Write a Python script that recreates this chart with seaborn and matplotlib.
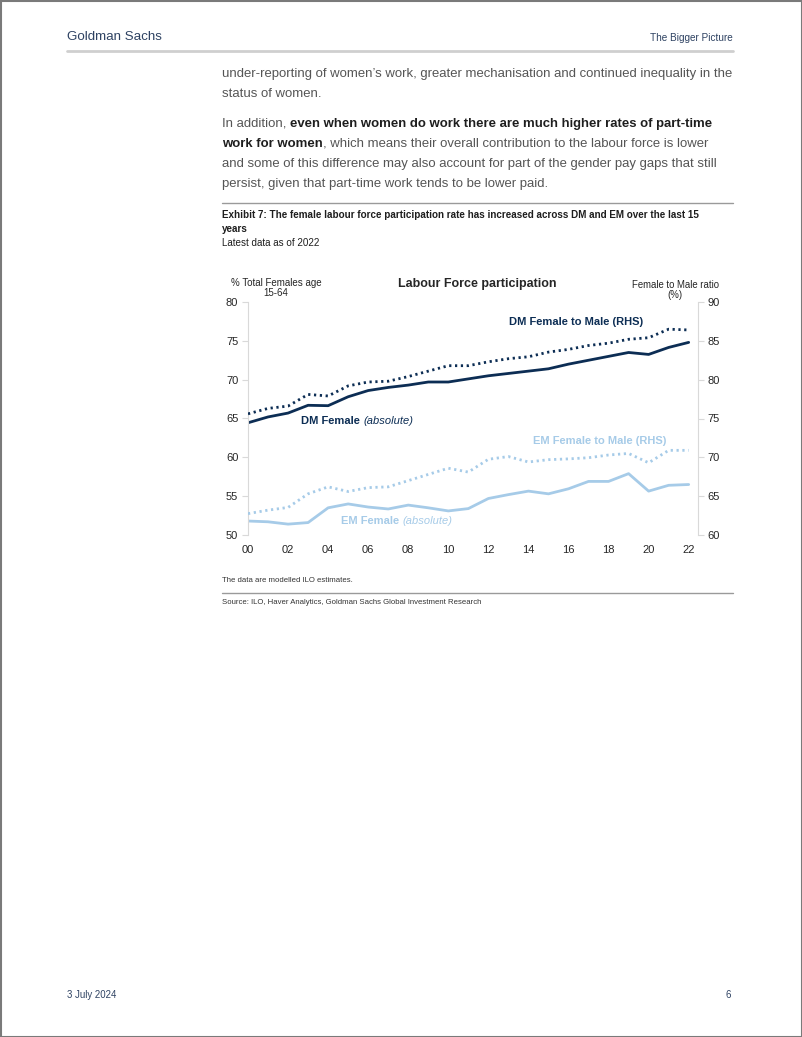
import matplotlib
matplotlib.use('Agg')
import pandas as pd
import seaborn as sns
import matplotlib.pyplot as plt
from matplotlib.patches import Rectangle

# Data
years = list(range(2000, 2023))
dm_female = [64.45, 65.2, 65.7, 66.7, 66.65, 67.8, 68.6, 69.0, 69.3, 69.7, 69.7, 70.1,
             70.5, 70.8, 71.1, 71.4, 72.0, 72.5, 73.0, 73.5, 73.25, 74.15, 74.8]
dm_ratio = [75.6, 76.3, 76.6, 78.1, 77.9, 79.2, 79.7, 79.8, 80.4, 81.1, 81.8, 81.8,
            82.3, 82.7, 82.95, 83.55, 83.9, 84.4, 84.7, 85.2, 85.4, 86.5, 86.4]
em_female = [51.8, 51.7, 51.4, 51.6, 53.5, 54.0, 53.6, 53.35, 53.85, 53.5, 53.1, 53.4,
             54.7, 55.2, 55.65, 55.3, 55.95, 56.9, 56.9, 57.9, 55.65, 56.4, 56.5]
em_ratio = [62.75, 63.2, 63.55, 65.3, 66.2, 65.6, 66.1, 66.2, 67.0, 67.8, 68.6, 68.1,
            69.75, 70.1, 69.4, 69.7, 69.8, 69.95, 70.3, 70.5, 69.3, 70.9, 70.9]
xticks = list(range(2000, 2023, 2))
xtick_labels = [f"{y % 100:02d}" for y in xticks]

df = pd.DataFrame({"year": years, "dm_female": dm_female, "dm_ratio": dm_ratio,
                   "em_female": em_female, "em_ratio": em_ratio})

sns.set_style("white")
plt.rcParams['font.family'] = ['Liberation Sans', 'DejaVu Sans']

NAVY = "#0c2d54"
LIGHT = "#a6cbe8"
GREY_TXT = "#555555"
HEAD = "#2e4262"
DARK = "#1e1e1e"

W, H = 802, 1037
fig = plt.figure(figsize=(W / 100, H / 100), dpi=100)


def fx(x):
    return x / W


def fy(y):
    return 1 - y / H


# page canvas for text and rules (pixel coordinates)
bg = fig.add_axes([0, 0, 1, 1])
bg.set_xlim(0, W)
bg.set_ylim(H, 0)
bg.axis('off')
bg.add_patch(Rectangle((0.5, 0.5), W - 1, H - 1, fill=False, edgecolor="#7a7a7a", lw=1.5))

# header / footer
bg.text(67, 37, "Goldman Sachs", fontsize=9.6, color=HEAD, va='center')
bg.text(733, 38, "The Bigger Picture", fontsize=7.2, color=HEAD, va='center', ha='right')
bg.plot([67, 733], [50.5, 50.5], color="#cfcfcf", lw=2)
bg.text(67, 995, "3 July 2024", fontsize=6.9, color=HEAD, va='center')
bg.text(731, 995, "6", fontsize=6.9, color=HEAD, va='center', ha='right')

# body text
BODY = 9.45


def simple(y, s):
    return bg.text(222, y, s, fontsize=BODY, color=GREY_TXT, va='baseline')


simple(77, "under-reporting of women\u2019s work, greater mechanisation and continued inequality in the")
simple(97, "status of women.")
t = simple(127, "In addition, ")
bg.annotate("even when women do work there are much higher rates of part-time",
            xy=(1, 0), xycoords=t, fontsize=BODY, fontweight='bold', color=DARK,
            va='bottom', ha='left')
t2 = bg.text(222, 147, "work for women", fontsize=BODY, fontweight='bold', color=DARK, va='baseline')
bg.annotate(", which means their overall contribution to the labour force is lower",
            xy=(1, 0), xycoords=t2, fontsize=BODY, color=GREY_TXT, va='bottom', ha='left')
simple(167, "and some of this difference may also account for part of the gender pay gaps that still")
simple(187, "persist, given that part-time work tends to be lower paid.")

bg.plot([222, 733], [202.5, 202.5], color="#9a9a9a", lw=1)
bg.text(222, 215, "Exhibit 7: The female labour force participation rate has increased across DM and EM over the last 15",
        fontweight='bold', fontsize=7.1, color=DARK, va='center')
bg.text(222, 229.5, "years", fontweight='bold', fontsize=7.1, color=DARK, va='center')
bg.text(222, 243, "Latest data as of 2022", fontsize=7.1, color=DARK, va='center')

bg.text(222, 581, "The data are modelled ILO estimates.", fontsize=5.6, color="#333333", va='center')
bg.plot([222, 733], [593, 593], color="#9a9a9a", lw=1)
bg.text(222, 603, "Source: ILO, Haver Analytics, Goldman Sachs Global Investment Research",
        fontsize=5.6, color="#333333", va='center')

# chart
ax = fig.add_axes([fx(248), fy(535), (697.7 - 248) / W, (535 - 302) / H])
ax2 = ax.twinx()
sns.lineplot(data=df, x="year", y="dm_female", ax=ax, color=NAVY, lw=2)
sns.lineplot(data=df, x="year", y="em_female", ax=ax, color=LIGHT, lw=2)
sns.lineplot(data=df, x="year", y="dm_ratio", ax=ax2, color=NAVY, lw=2)
sns.lineplot(data=df, x="year", y="em_ratio", ax=ax2, color=LIGHT, lw=2)
for ln in ax2.get_lines():
    ln.set_linestyle((0, (0.8, 1.3)))

ax.set_xlim(2000, 2022.45)
ax.set_ylim(50, 80)
ax2.set_ylim(60, 90)
ax.set_yticks(range(50, 81, 5))
ax2.set_yticks(range(60, 91, 5))
ax.set_xticks(xticks)
ax.set_xticklabels(xtick_labels)
for a in (ax, ax2):
    a.set_xlabel("")
    a.set_ylabel("")
    a.set_facecolor('none')
    for s in a.spines.values():
        s.set_visible(False)
ax.spines['left'].set_visible(True)
ax.spines['left'].set_color("#d9d9d9")
ax2.spines['right'].set_visible(True)
ax2.spines['right'].set_color("#d9d9d9")
ax.tick_params(axis='y', left=True, length=4, width=0.8, color="#d9d9d9", labelsize=8, pad=3)
ax.tick_params(axis='x', bottom=False, labelsize=8, pad=4)
ax2.tick_params(axis='y', right=True, length=4, width=0.8, color="#d9d9d9", labelsize=8, pad=3)

bg.text(477, 284, "Labour Force participation", fontsize=9, fontweight='bold', ha='center', va='center')
bg.text(276, 288, "% Total Females age\n15-64", fontsize=7, ha='center', va='center', linespacing=1.0)
bg.text(675, 290, "Female to Male ratio\n(%)", fontsize=6.9, ha='center', va='center', linespacing=0.95)

bg.text(576, 322, "DM Female to Male (RHS)", fontsize=8, fontweight='bold', color=NAVY, ha='center', va='center')
t3 = bg.text(301, 421, "DM Female ", fontsize=8, fontweight='bold', color=NAVY, va='center')
bg.annotate("(absolute)", xy=(1, 0.5), xycoords=t3, fontsize=8, style='italic', color=NAVY, va='center')
bg.text(600, 441, "EM Female to Male (RHS)", fontsize=8, fontweight='bold', color=LIGHT, ha='center', va='center')
t4 = bg.text(341, 521, "EM Female ", fontsize=8, fontweight='bold', color=LIGHT, va='center')
bg.annotate("(absolute)", xy=(1, 0.5), xycoords=t4, fontsize=8, style='italic', color=LIGHT, va='center')

fig.savefig("out.png", dpi=100)
